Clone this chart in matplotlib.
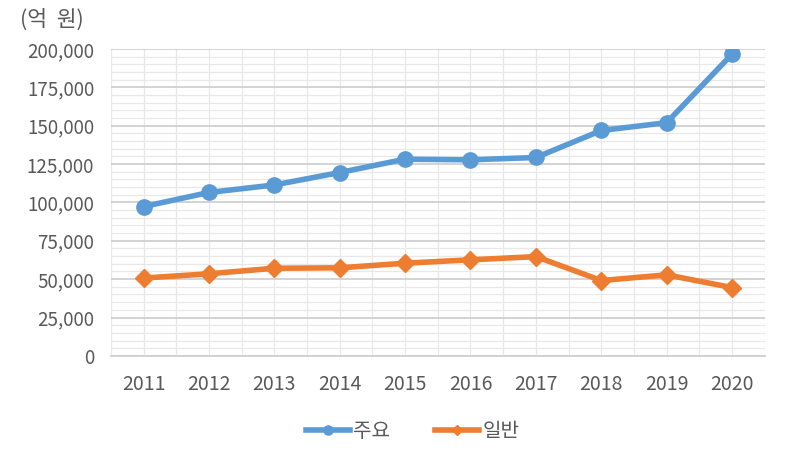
import numpy as np
import matplotlib.pyplot as plt
from matplotlib.ticker import MultipleLocator, FuncFormatter

plt.rcParams['font.family'] = ['Noto Sans CJK KR', 'DejaVu Sans']

years = ["2011", "2012", "2013", "2014", "2015", "2016", "2017", "2018", "2019", "2020"]
major_vals = [97300, 106500, 111400, 119500, 128200, 127800, 129300, 146900, 152000, 196700]
general_vals = [50700, 53500, 57100, 57400, 60400, 62600, 64700, 49100, 52800, 44500]

BLUE = "#5B9BD5"
ORANGE = "#ED7D31"
TXT = "#595959"

fig = plt.figure(figsize=(7.86, 4.67), dpi=100)
ax = fig.add_axes([0.141, 0.238, 0.832, 0.657])

x = np.arange(len(years))
ax.plot(x, major_vals, color=BLUE, lw=4, marker="o", ms=11, label="주요", zorder=3)
ax.plot(x, general_vals, color=ORANGE, lw=4, marker="D", ms=9, label="일반", zorder=3)

ax.set_xlim(-0.5, len(years) - 0.5)
ax.set_ylim(0, 200000)
ax.yaxis.set_major_locator(MultipleLocator(25000))
ax.yaxis.set_minor_locator(MultipleLocator(5000))
ax.yaxis.set_major_formatter(FuncFormatter(lambda v, p: f"{int(v):,}"))
ax.set_xticks(x)
ax.set_xticklabels(years)
ax.set_xticks(np.arange(-0.5, len(years)), minor=True)

ax.grid(which="major", axis="y", color="#d0d0d0", lw=1.3)
ax.grid(which="minor", axis="y", color="#e8e8e8", lw=0.9)
ax.grid(which="both", axis="x", color="#e8e8e8", lw=0.9)
ax.set_axisbelow(True)

for s in ["top", "right", "left"]:
    ax.spines[s].set_visible(False)
ax.spines["bottom"].set_color("#d0d0d0")
ax.spines["bottom"].set_linewidth(1.3)

ax.tick_params(which="both", length=0)
ax.tick_params(axis="y", labelsize=13.5, colors=TXT, pad=12)
ax.tick_params(axis="x", labelsize=14, colors=TXT, pad=13)

fig.text(0.026, 0.958, "(억  원)", fontsize=15.5, color=TXT, ha="left", va="center")

leg = fig.legend(loc="center", bbox_to_anchor=(0.525, 0.075), ncol=2, frameon=False,
                 fontsize=14.5, handlelength=2.2, columnspacing=2.2, handletextpad=0.15,
                 markerscale=0.6)
for t in leg.get_texts():
    t.set_color(TXT)

fig.savefig("out.png", dpi=100)
